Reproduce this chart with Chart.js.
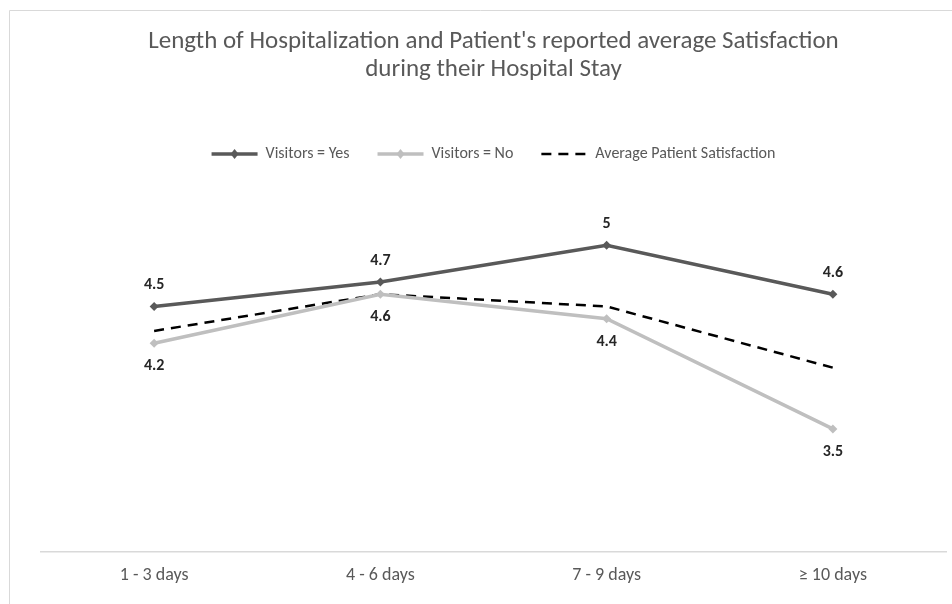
<!DOCTYPE html>
<html>
<head>
<meta charset="utf-8">
<script src="https://cdn.jsdelivr.net/npm/chart.js@4/dist/chart.umd.min.js"></script>
<style>
  html, body { margin: 0; padding: 0; background: #fff; }
  #wrap { width: 952px; height: 604px; position: relative; }
</style>
</head>
<body>
<div id="wrap"><canvas id="chart"></canvas></div>
<script>
const categories = ["1 - 3 days", "4 - 6 days", "7 - 9 days", "\u2265 10 days"];
const visitorsYes = [4.5, 4.7, 5.0, 4.6];
const visitorsNo = [4.2, 4.6, 4.4, 3.5];
const averageSatisfaction = [4.3, 4.6, 4.5, 4.0];
const titleLines = [
    "Length of Hospitalization and Patient's reported average Satisfaction",
    "during their Hospital Stay",
];

const FONT = "Carlito, Lato, 'Open Sans', sans-serif";
const TEXT_COLOR = "#595959";
const LABEL_COLOR = "#262626";

// light frame round the chart, like the office chart box
const frame = {
    id: "frame",
    beforeDraw(chart) {
        const ctx = chart.ctx;
        ctx.save();
        ctx.strokeStyle = "#d9d9d9";
        ctx.lineWidth = 1;
        ctx.beginPath();
        ctx.moveTo(9.5, chart.height);
        ctx.lineTo(9.5, 10.5);
        ctx.lineTo(chart.width, 10.5);
        ctx.stroke();
        ctx.restore();
    },
};

// tweak the space under the legend
const legendGap = {
    id: "legendGap",
    afterInit(chart) {
        const legend = chart.legend;
        if (!legend) return;
        const fit = legend.fit;
        legend.fit = function () {
            fit.call(this);
            this.height += 12;
        };
    },
};

// value labels: above for "Yes", below for "No"
const valueLabels = {
    id: "valueLabels",
    afterDatasetsDraw(chart) {
        const ctx = chart.ctx;
        ctx.save();
        ctx.font = "bold 16px " + FONT;
        ctx.fillStyle = LABEL_COLOR;
        ctx.textAlign = "center";
        ctx.textBaseline = "middle";
        chart.data.datasets.forEach((ds, i) => {
            if (!ds.labelPos) return;
            const meta = chart.getDatasetMeta(i);
            meta.data.forEach((pt, j) => {
                const dy = ds.labelPos === "above" ? -21 : 23;
                ctx.fillText(String(ds.data[j]), pt.x, pt.y + dy);
            });
        });
        ctx.restore();
    },
};

// diamond marker on the legend line samples
const legendMarkers = {
    id: "legendMarkers",
    afterDraw(chart) {
        const legend = chart.legend;
        if (!legend || !legend.legendHitBoxes) return;
        const ctx = chart.ctx;
        const boxW = chart.options.plugins.legend.labels.pointStyleWidth;
        legend.legendItems.forEach((item, i) => {
            const ds = chart.data.datasets[item.datasetIndex];
            if (ds.pointStyle !== "rectRot") return;
            const hb = legend.legendHitBoxes[i];
            const cx = hb.left + boxW / 2;
            const cy = hb.top + hb.height / 2;
            ctx.save();
            ctx.fillStyle = ds.borderColor;
            ctx.beginPath();
            ctx.moveTo(cx, cy - 5);
            ctx.lineTo(cx + 4, cy);
            ctx.lineTo(cx, cy + 5);
            ctx.lineTo(cx - 4, cy);
            ctx.closePath();
            ctx.fill();
            ctx.restore();
        });
    },
};

const ctx = document.getElementById("chart");
new Chart(ctx, {
    type: "line",
    data: {
        labels: categories,
        datasets: [
            {
                label: "Visitors = Yes",
                data: visitorsYes,
                borderColor: "#595959",
                backgroundColor: "#595959",
                borderWidth: 3.5,
                pointStyle: "rectRot",
                pointRadius: 4.5,
                pointBorderWidth: 0,
                labelPos: "above",
            },
            {
                label: "Visitors = No",
                data: visitorsNo,
                borderColor: "#bfbfbf",
                backgroundColor: "#bfbfbf",
                borderWidth: 3.5,
                pointStyle: "rectRot",
                pointRadius: 4.5,
                pointBorderWidth: 0,
                labelPos: "below",
            },
            {
                label: "Average Patient Satisfaction",
                data: averageSatisfaction,
                borderColor: "#000000",
                backgroundColor: "#000000",
                borderWidth: 2.5,
                borderDash: [10, 7],
                pointRadius: 0,
                pointStyle: "line",
            },
        ],
    },
    options: {
        responsive: true,
        maintainAspectRatio: false,
        animation: false,
        layout: { padding: { left: 41, right: 6, top: 28, bottom: 5 } },
        scales: {
            x: {
                offset: true,
                grid: { display: false, drawTicks: false },
                border: { display: true, color: "#d9d9d9", width: 1.5 },
                ticks: {
                    color: TEXT_COLOR,
                    font: { family: FONT, size: 18 },
                    padding: 13,
                },
            },
            y: {
                display: false,
                min: 2.5,
                max: 5.5,
            },
        },
        plugins: {
            title: {
                display: true,
                text: titleLines,
                color: TEXT_COLOR,
                font: { family: FONT, size: 25, weight: "normal", lineHeight: 1.12 },
                padding: { top: 0, bottom: 34 },
            },
            legend: {
                display: true,
                labels: {
                    color: TEXT_COLOR,
                    font: { family: FONT, size: 16 },
                    usePointStyle: true,
                    pointStyleWidth: 46,
                    padding: 28,
                    generateLabels(chart) {
                        return chart.data.datasets.map((ds, i) => ({
                            text: ds.label,
                            datasetIndex: i,
                            fillStyle: ds.borderColor,
                            strokeStyle: ds.borderColor,
                            lineWidth: ds.borderWidth,
                            lineDash: ds.borderDash || [],
                            pointStyle: "line",
                            fontColor: TEXT_COLOR,
                            hidden: false,
                        }));
                    },
                },
            },
            tooltip: { enabled: false },
        },
    },
    plugins: [frame, legendGap, valueLabels, legendMarkers],
});
</script>
</body>
</html>
